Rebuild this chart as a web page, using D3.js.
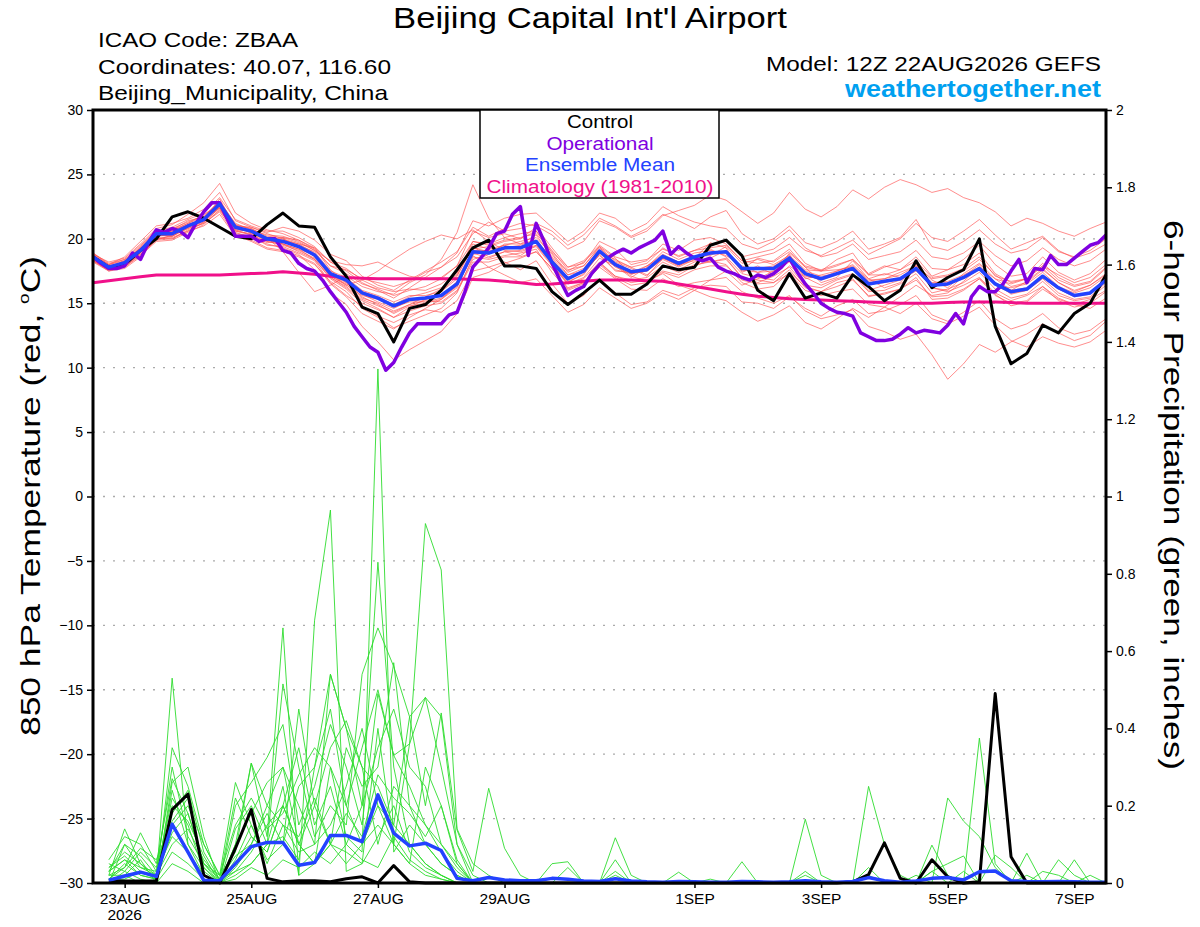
<!DOCTYPE html>
<html>
<head>
<meta charset="utf-8">
<script src="https://cdn.jsdelivr.net/npm/d3@7"></script>
<style>
body { margin: 0; background: #fff; }
svg { display: block; font-family: "Liberation Sans", Arial, Helvetica, sans-serif; }
</style>
</head>
<body>
<svg id="chart" width="1200" height="927"></svg>
<script>
// ---- data ----
var tempTicks = [-30, -25, -20, -15, -10, -5, 0, 5, 10, 15, 20, 25, 30];
var gridTemps = [-25, -20, -15, -10, -5, 0, 5, 10, 15, 20, 25];
var precipTicks = [0, 0.2, 0.4, 0.6, 0.8, 1, 1.2, 1.4, 1.6, 1.8, 2];
var dateTicks = ["2026-08-23", "2026-08-25", "2026-08-27", "2026-08-29", "2026-09-01", "2026-09-03", "2026-09-05", "2026-09-07"];
var legendItems = ["Control", "Operational", "Ensemble Mean", "Climatology (1981-2010)"];

// hours after 12Z 22AUG2026
var hours6 = d3.range(0, 385, 6);
var hours3 = d3.range(0, 385, 3);
var precipHours = d3.range(6, 385, 6);

var controlTemp = [18.6,17.8,18.0,19.1,20.0,21.7,22.1,21.6,20.9,20.2,20.0,21.1,22.0,21.0,20.9,18.6,
  17.1,14.7,14.2,12.0,14.6,14.9,16.0,17.6,19.3,19.9,17.9,17.9,17.7,15.9,14.9,15.8,
  16.8,15.7,15.7,16.5,17.9,17.6,17.8,19.5,19.9,18.7,16.0,15.2,17.3,15.4,15.8,15.4,
  17.2,16.3,15.2,16.0,18.3,16.2,17.0,17.6,20.0,13.2,10.3,11.1,13.3,12.7,14.2,15.0,
  17.2];

var operationalTemp = [18.6,18.1,17.7,17.7,17.9,18.9,18.4,19.7,20.7,20.5,20.8,20.6,20.1,21.2,22.1,22.8,
  22.8,21.5,20.2,20.2,20.2,19.8,20.0,20.0,19.1,18.9,18.1,17.7,17.5,16.8,15.9,15.1,
  14.3,13.2,12.4,11.6,11.2,9.8,10.4,11.6,12.7,13.4,13.4,13.4,13.4,14.1,14.3,15.9,
  17.8,18.5,19.3,20.4,20.6,21.9,22.5,18.7,21.2,19.8,18.1,16.8,15.6,16.0,16.3,17.3,
  18.0,18.5,18.9,19.2,18.9,19.3,19.6,19.9,20.6,18.8,19.4,18.9,18.5,18.3,18.5,17.8,
  17.5,17.3,17.0,16.8,17.2,17.0,17.3,17.8,18.5,17.4,16.5,15.8,15.0,14.6,14.3,14.2,
  14.0,12.7,12.4,12.1,12.1,12.2,12.6,13.1,12.7,12.9,12.8,12.7,13.3,14.2,13.4,15.5,
  16.3,15.9,15.9,16.5,17.5,18.4,16.6,17.7,17.6,18.7,18.0,18.0,18.5,19.0,19.5,19.7,
  20.3];

var meanTemp = [18.6,17.8,18.15,19.1,20.4,20.4,21.0,21.5,22.7,20.9,20.6,20.0,19.8,19.4,18.75,17.3,
  16.8,15.8,15.4,14.8,15.3,15.4,15.6,16.5,19.0,18.9,19.3,19.3,19.8,18.2,16.9,17.5,
  19.05,18.0,17.45,17.6,18.65,18.1,18.6,18.9,19.0,17.7,17.7,17.7,18.5,17.3,16.9,17.3,
  17.7,16.5,16.7,16.9,17.7,16.4,16.5,17.0,17.7,16.5,15.9,16.1,17.1,16.2,15.6,15.8,
  16.8];

var climoTemp = [16.6,16.75,16.9,17.05,17.2,17.2,17.2,17.2,17.2,17.25,17.3,17.35,17.45,17.35,17.25,17.1,
  17.0,16.95,16.9,16.9,16.9,16.9,16.9,16.9,16.85,16.8,16.7,16.6,16.45,16.5,16.6,16.7,
  16.8,16.8,16.8,16.75,16.7,16.5,16.3,16.1,15.9,15.7,15.55,15.45,15.35,15.3,15.25,15.2,
  15.15,15.1,15.05,15.0,15.0,15.0,15.05,15.1,15.1,15.1,15.05,15.0,15.0,15.0,15.0,15.0,
  15.0];

var memberTemps = [
  [18.9,18.0,18.6,19.8,21.0,21.2,21.6,22.3,23.6,21.4,20.9,20.5,20.9,20.6,19.9,18.8,18.3,17.1,16.4,16.0,16.8,
   17.5,18.2,19.0,20.9,20.2,20.8,21.2,21.0,20.3,19.2,19.8,21.4,20.9,20.1,20.6,21.8,22.2,22.6,23.4,23.0,
   22.1,21.2,22.0,23.6,22.3,21.7,22.5,23.8,23.1,24.0,24.6,24.2,23.6,23.9,23.2,22.8,22.1,21.0,21.6,21.2,
   20.6,20.2,20.8,21.3],
  [18.3,17.5,17.9,18.8,19.9,20.3,20.8,21.2,22.1,20.3,19.8,19.2,19.0,18.6,18.0,16.7,15.9,14.6,13.9,13.1,13.6,
   14.1,14.6,15.8,18.6,18.4,18.7,18.9,19.2,17.4,16.0,16.5,17.8,16.9,16.1,16.0,16.9,16.3,16.6,16.8,17.0,
   15.9,15.4,15.0,15.6,14.4,13.8,14.1,14.5,13.2,12.8,12.2,12.6,11.0,9.1,10.3,11.8,11.2,12.0,12.6,13.4,
   12.7,12.1,12.5,13.6],
  [18.8,18.2,18.5,19.6,20.8,21.1,21.9,22.8,24.3,22.0,21.2,20.7,20.4,19.9,19.2,17.9,17.3,16.5,16.1,15.6,16.0,
   16.3,16.9,17.9,20.6,20.1,20.4,20.0,20.9,19.3,17.8,18.1,19.8,19.2,18.0,18.3,19.6,19.1,19.9,20.1,19.6,
   18.3,18.6,18.9,19.6,18.1,17.5,18.4,18.9,17.2,17.8,18.2,19.1,17.7,17.6,18.4,19.5,18.0,17.1,17.3,18.6,
   17.4,16.8,17.3,18.4],
  [18.4,17.6,17.8,18.7,19.8,19.9,20.5,21.1,22.3,20.5,20.1,19.6,19.3,18.8,17.6,15.8,14.9,13.2,12.0,10.6,11.4,
   12.1,12.8,14.2,17.0,17.4,18.1,18.5,19.0,17.7,16.1,16.6,18.1,17.1,16.6,16.8,17.5,17.2,17.9,18.3,18.0,
   16.6,16.1,16.3,17.4,16.3,15.9,16.6,16.9,15.5,15.8,16.1,17.0,15.3,15.4,16.0,16.9,15.7,14.8,15.1,16.1,
   15.3,14.9,14.6,15.4],
  [18.7,17.9,18.2,19.3,20.2,20.6,21.2,21.9,22.6,21.0,20.8,20.1,19.0,17.4,15.9,16.4,17.1,16.3,15.9,15.7,16.6,
   17.2,18.4,20.5,24.2,21.6,20.1,19.6,20.3,18.6,17.5,18.2,19.4,18.5,17.2,17.9,18.8,18.2,18.5,19.7,19.3,
   17.4,17.9,17.2,18.9,17.8,16.6,17.0,18.3,16.9,16.2,16.6,18.0,16.8,16.2,17.3,18.1,16.9,16.0,16.7,17.7,
   16.6,15.9,16.4,17.2],
  [18.5,17.7,18.0,19.0,20.5,20.8,21.3,21.8,22.9,21.2,20.7,20.3,20.2,19.8,19.1,17.9,17.6,16.9,16.6,16.3,16.7,
   17.4,17.8,18.6,20.4,21.3,20.6,20.8,21.2,20.6,19.5,20.3,21.6,21.0,20.2,20.8,21.9,21.4,20.8,21.7,22.2,
   20.4,19.6,20.0,21.0,19.7,19.3,19.8,20.6,19.2,19.6,20.1,21.5,19.4,19.1,19.8,20.7,19.6,18.9,19.2,20.1,
   19.0,18.6,19.1,20.0],
  [18.2,17.5,17.7,18.6,20.0,20.1,20.6,21.3,22.4,20.4,20.2,19.5,19.4,18.9,18.3,16.6,15.6,14.8,14.0,13.5,14.1,
   14.5,14.3,15.2,17.5,17.8,18.2,17.6,18.3,16.5,15.0,15.6,16.9,15.8,14.9,15.1,16.0,15.6,16.2,16.4,16.3,
   15.1,15.0,14.6,15.5,14.6,14.0,14.8,15.3,14.2,14.4,14.9,15.6,14.1,13.6,14.3,15.2,13.8,13.0,13.4,14.2,
   13.1,12.6,12.9,13.8],
  [18.6,17.8,18.3,19.4,20.7,20.5,21.0,21.4,22.5,20.8,20.5,19.9,20.1,19.9,19.3,17.6,16.6,15.5,14.9,14.2,14.8,
   15.0,15.3,16.2,19.2,19.4,19.8,20.0,20.6,19.1,17.6,17.9,19.3,18.3,17.8,17.2,18.2,17.6,18.2,18.5,19.1,
   17.6,18.5,18.2,19.0,17.9,17.6,18.0,18.4,17.3,17.9,17.6,18.6,17.1,17.6,18.0,18.9,17.3,16.6,16.9,18.1,
   17.0,16.4,16.7,17.8],
  [18.9,18.1,18.4,19.2,20.1,20.0,20.7,21.2,22.2,20.6,20.3,19.7,19.9,19.6,19.3,18.2,17.7,16.8,16.2,15.9,16.1,
   16.0,16.5,17.4,19.6,19.2,19.5,19.8,20.1,18.8,17.2,17.5,18.7,17.6,17.3,17.5,18.4,17.8,18.4,18.2,18.5,
   17.0,16.6,17.1,17.8,16.4,16.2,16.8,17.2,15.9,16.0,16.5,17.3,15.8,16.1,16.6,17.4,16.1,15.4,15.7,16.7,
   15.6,15.2,15.4,16.4],
  [18.3,17.6,18.0,19.0,20.3,20.2,20.9,21.6,22.8,21.1,20.4,20.0,19.6,19.2,18.7,17.3,16.4,16.8,17.5,18.4,19.2,
   19.8,20.3,20.0,20.7,19.8,19.1,19.0,19.4,17.9,16.5,17.0,18.5,17.9,17.0,17.8,19.0,18.4,18.9,19.1,18.7,
   17.9,17.4,17.8,18.8,16.9,17.2,17.5,17.9,16.8,16.9,17.2,17.9,16.6,16.7,17.2,17.8,16.4,16.2,16.5,17.4,
   16.3,15.8,16.2,17.1],
  [18.5,17.9,18.1,18.9,20.6,20.7,21.4,21.7,22.9,21.0,20.9,20.4,20.0,19.6,18.9,17.0,16.2,15.2,14.6,13.9,14.7,
   15.3,15.9,17.1,19.4,18.6,19.0,18.7,19.5,18.2,16.8,17.6,19.1,18.2,17.7,17.1,18.5,18.0,18.3,19.2,18.6,
   17.3,17.0,16.8,17.9,17.0,16.4,16.9,17.3,16.0,16.4,16.8,18.1,16.2,16.0,17.1,18.0,16.6,15.7,16.0,16.9,
   15.8,15.3,15.5,16.6],
  [18.7,17.8,18.2,19.2,20.4,20.6,21.1,21.5,23.1,20.9,20.5,19.8,19.5,19.1,18.5,17.1,16.5,15.4,15.0,14.4,14.9,
   15.2,15.1,16.0,18.4,18.8,19.6,19.6,19.9,18.0,16.6,17.3,18.8,17.5,17.4,17.9,18.6,17.9,18.6,18.7,19.4,
   18.1,18.4,18.0,18.7,17.6,17.5,17.6,17.8,16.7,16.9,17.4,17.9,16.9,17.1,17.5,18.4,17.2,16.3,16.6,17.6,
   16.6,16.0,16.4,17.3],
  [18.4,17.7,18.0,19.1,20.3,20.2,20.8,21.4,22.5,20.8,20.6,20.1,19.9,19.5,18.6,17.2,16.6,15.7,15.1,14.6,15.2,
   15.3,15.6,16.7,18.9,18.5,19.0,19.1,19.5,18.0,16.5,16.9,18.2,17.1,16.8,17.0,17.9,17.4,18.0,18.2,18.4,
   17.0,16.8,16.6,17.3,16.0,15.6,15.9,16.1,14.9,14.7,14.2,15.0,13.8,13.4,14.0,14.7,13.3,12.1,11.6,12.4,
   11.9,11.6,12.0,12.9],
  [18.6,17.9,18.2,19.0,20.2,20.3,21.0,21.6,22.6,20.7,20.6,20.0,19.7,19.5,19.0,17.5,17.0,16.0,15.6,15.1,15.6,
   15.6,15.9,16.9,19.1,19.1,19.3,19.5,19.9,18.5,17.2,17.7,19.2,18.1,17.5,17.6,18.7,18.2,18.5,18.9,19.0,
   17.6,17.4,17.5,18.4,17.2,16.8,17.2,17.7,16.5,16.6,16.9,17.6,16.3,16.5,16.9,17.6,16.4,15.8,16.0,17.0,
   16.1,15.5,15.7,16.7],
  [18.5,17.7,18.1,19.2,20.5,20.4,21.1,21.5,22.8,20.9,20.7,20.0,20.0,19.4,18.8,17.4,16.8,15.9,15.5,14.9,15.5,
   15.8,16.2,17.2,19.3,19.0,19.5,19.2,19.9,18.4,17.0,17.4,19.0,18.4,17.8,18.1,19.3,18.6,19.1,19.6,19.8,
   18.6,18.9,19.2,20.1,19.1,18.7,19.3,19.9,18.8,19.4,20.0,21.2,20.1,19.8,20.6,21.5,20.3,19.2,19.7,20.2,
   19.1,18.5,18.9,19.6],
  [18.3,17.6,17.9,18.9,20.0,20.2,20.9,21.3,22.4,20.6,20.4,19.9,19.6,19.2,18.4,16.9,16.1,15.0,14.5,13.9,14.4,
   14.8,15.0,15.9,18.2,18.2,18.6,18.6,19.0,17.7,16.2,16.6,18.0,17.0,16.4,16.6,17.4,17.0,17.6,17.9,17.9,
   16.8,16.5,16.6,17.6,16.2,15.9,16.3,16.8,15.6,15.7,16.1,16.8,15.5,15.6,16.1,16.9,15.6,15.0,15.2,16.3,
   15.2,14.7,15.0,15.9],
  [18.8,18.0,18.4,19.5,20.6,20.7,21.2,21.7,22.9,21.1,20.8,20.2,20.1,19.7,19.1,18.3,18.0,17.9,18.2,17.6,17.1,
   16.9,17.0,17.9,19.8,19.5,19.9,20.1,20.4,19.0,17.8,18.3,19.5,18.6,18.2,18.4,19.2,18.7,19.1,19.3,19.5,
   18.3,18.1,18.3,19.2,17.8,17.5,17.9,18.4,17.2,17.2,17.6,18.3,17.0,17.2,17.7,18.6,17.1,16.7,16.9,17.9,
   16.8,16.3,16.6,17.7],
  [18.6,17.8,18.0,19.0,20.3,20.5,21.0,21.5,22.7,20.9,20.5,20.0,19.8,19.3,18.7,17.1,16.4,15.6,15.3,14.7,15.1,
   15.1,15.4,16.3,18.8,19.0,19.2,19.4,19.8,18.1,16.7,17.2,18.9,17.8,17.3,17.5,18.5,17.9,18.5,18.8,18.9,
   17.5,17.7,17.9,18.5,17.5,17.1,17.3,17.6,16.4,16.7,16.8,17.5,16.5,16.6,17.0,17.7,16.6,16.0,16.2,17.0,
   16.1,15.6,15.8,16.8],
  [18.4,17.6,17.8,18.8,19.9,20.0,20.6,21.0,21.9,20.2,19.9,19.3,19.1,18.7,18.1,16.5,15.5,14.2,13.6,13.0,13.9,
   14.6,15.3,16.4,18.7,17.8,17.2,16.6,16.9,15.6,14.3,14.9,16.2,15.4,14.6,15.0,15.8,15.3,16.0,16.8,17.5,
   16.4,16.9,17.5,18.2,17.1,16.9,17.5,18.0,16.9,17.3,17.0,17.6,16.2,15.9,16.4,17.0,15.8,15.2,15.6,16.3,
   15.4,14.9,15.3,16.0],
  [18.7,18.0,18.3,19.3,20.6,20.9,21.5,22.0,23.2,21.5,21.0,20.6,20.6,20.1,19.4,18.2,17.5,16.6,16.0,15.4,16.2,
   17.0,17.8,18.9,21.4,21.0,21.6,21.9,22.0,20.9,19.8,20.6,22.0,21.6,20.6,21.2,22.5,21.8,21.3,21.0,20.8,
   19.6,19.2,19.8,20.7,19.3,18.6,18.9,19.6,18.4,18.7,19.0,19.9,18.6,18.4,18.9,19.8,18.7,17.9,18.3,19.3,
   18.4,17.9,18.3,19.2],
  [18.5,17.8,18.1,19.0,20.2,20.5,21.1,21.6,22.4,20.7,20.3,19.8,19.6,19.0,18.4,17.0,16.3,15.3,14.8,14.3,14.9,
   15.5,16.1,17.3,19.8,19.6,20.1,20.4,20.6,18.9,17.4,17.9,19.4,18.0,17.1,16.7,17.3,16.4,16.0,15.5,15.2,
   14.3,13.6,14.1,14.8,13.5,13.0,13.8,14.6,13.9,14.7,15.5,16.4,15.6,15.8,16.7,17.8,16.9,16.5,16.9,17.9,
   17.2,16.6,17.0,18.0]
];

var controlPrecip = [0.006,0.005,0.005,0.005,0.19,0.23,0.02,0.0,0.09,0.19,0.012,0.003,0.006,0.006,0.003,0.011,
  0.016,0.0,0.045,0.003,0,0,0,0,0,0,0,0,0,0,0,0,
  0,0,0,0,0,0,0,0,0,0,0,0,0,0,0,0.003,
  0.022,0.104,0.012,0.0,0.06,0.016,0.0,0.003,0.49,0.068,0,0,0,0,0,0];

var meanPrecip = [0.007,0.018,0.028,0.017,0.152,0.08,0.007,0.006,0.05,0.094,0.105,0.105,0.046,0.053,0.123,0.123,
  0.107,0.228,0.129,0.096,0.103,0.084,0.012,0.006,0.014,0.008,0.006,0.006,0.012,0.01,0.005,0.004,
  0.011,0.005,0.003,0.002,0.004,0.003,0.002,0.002,0.004,0.003,0.002,0.003,0.006,0.003,0.002,0.004,
  0.014,0.006,0.002,0.005,0.012,0.014,0.008,0.029,0.031,0.006,0.004,0.003,0.004,0.003,0.002,0.002];

var memberPrecips = [
  [.03,.06,.02,.01,.53,.1,.02,0, .05,.12,.08,.2,.1,.05,.3,.12, .08,1.33,.08,.15,.1,.05,.02,0, 0,0,0,0,0,0,0,0,
   .03,0,0,0,0,0,0,0, 0,0,0,0,0,0,0,0, .25,.1,.02,0,0,0,0,0, 0,0,0,0,0,0,0,0],
  [.02,.14,.05,.02,.22,.15,.03,0, .1,.31,.12,.66,.02,.05,.1,.05, .1,.2,.1,.05,.02,.01,0,0, 0,0,0,0,0,0,0,0,
   0,0,0,0,0,0,0,0, 0,0,0,0,.165,.02,0,0, 0,0,0,0,0,0,0,0, 0,0,0,0,0,0,0,0],
  [.01,.04,.13,.05,.27,.18,.05,.02, .26,.15,.06,.1,.25,.3,.54,.4, .2,.83,.3,.1,.05,.02,0,0, 0,0,0,0,0,0,0,0,
   .117,.02,0,0,0,0,0,0, 0,0,0,0,0,0,0,0, 0,0,0,0,0,0,0,.375, .05,0,0,0,0,0,0,0],
  [.05,.03,.08,.04,.18,.24,.08,.01, .03,.05,.1,.515,.3,.12,.2,.15, .54,.66,.56,.43,.48,.3,.1,.02, 0,0,0,0,0,0,0,0,
   0,0,0,0,0,0,0,0, 0,0,0,0,0,0,0,0, 0,0,0,0,.098,.02,0,0, 0,0,0,0,0,0,0,0],
  [0,.1,.04,.03,.3,.12,.05,0, .2,.26,.325,.41,.15,.25,.41,.3, .15,.49,.33,.36,.93,.81,.14,.05, .02,0,0,0,.05,.055,0,0,
   0,0,0,0,0,0,0,0, 0,0,0,0,0,0,0,0, 0,0,0,0,0,0,0,0, 0,0,0,0,0,0,0,0],
  [.04,.07,.03,.02,.15,.2,.1,.02, .08,.31,.2,.3,.1,.2,.35,.42, .3,.25,.15,.43,.2,.44,.137,.03, .245,.09,.02,0,0,0,0,0,
   0,0,0,0,0,0,0,0, 0,0,0,0,0,0,0,0, 0,0,0,0,0,0,0,0, 0,0,0,0,0,0,0,0],
  [.02,.02,.06,0,.26,.3,.12,0, .04,.1,.18,.1,.45,.2,.1,.35, .25,.3,.57,.2,.1,.05,.02,0, 0,0,0,0,0,0,0,0,
   0,0,0,0,.028,0,0,0, 0,0,0,0,0,0,0,0, 0,0,0,0,0,.22,.16,.12, .04,0,0,0,0,0,0,0],
  [.06,.12,.1,.03,.12,.08,.02,0, .14,.2,.1,.25,.02,.68,.965,.03, .05,.4,.1,.05,.3,.2,.05,0, 0,0,0,0,0,0,0,0,
   0,0,0,0,0,0,0,0, .055,0,0,0,0,0,0,0, 0,0,0,0,0,0,0,0, 0,0,0,0,0,.06,0,0],
  [.01,.05,.02,.01,.24,.1,.04,0, .06,.15,.05,.15,.08,.1,.54,.4, .3,.1,.25,.2,.15,.1,.04,0, 0,0,0,0,0,0,0,0,
   .06,0,0,0,0,0,0,0, 0,0,0,0,0,0,0,0, 0,0,0,0,0,0,0,0, 0,0,.077,0,0,0,0,0],
  [.03,.1,.07,.02,.1,.14,.06,.01, .22,.12,.08,.2,.35,.15,.25,.1, .2,.35,.45,.3,.25,.1,.05,0, 0,0,0,0,0,0,0,0,
   0,0,0,0,0,0,0,0, 0,0,0,0,.03,0,0,0, 0,0,0,0,0,0,0,0, 0,0,0,0,.06,.02,0,0],
  [0,.03,.01,0,.2,.16,.07,0, .02,.05,.1,.12,.06,.3,.45,.2, .1,.15,.1,.36,.48,.43,.1,0, 0,0,0,0,0,0,0,0,
   .02,0,0,0,0,0,0,0, 0,0,0,0,0,0,0,0, .04,0,0,0,.03,.05,.07,0, 0,0,0,0,0,0,0,0],
  [.02,.04,.09,.06,.16,.22,.04,0, .1,.18,.26,.3,.2,.1,.15,.25, .4,.2,.15,.1,.05,.02,0,0, 0,0,0,0,0,.04,0,0,
   0,0,0,0,0,0,0,0, 0,0,0,0,0,0,0,0, 0,0,0,0,0,0,0,0, .072,.04,0,0,0,0,.02,0],
  [.01,.01,.03,.01,.08,.05,.01,0, .03,.08,.15,.2,.1,.05,.1,.08, .05,.12,.2,.08,.04,.02,0,0, 0,0,0,0,0,0,0,0,
   0,0,0,0,0,0,.01,0, 0,0,0,0,0,0,0,0, 0,0,0,.02,0,0,0,0, 0,0,.02,0,0,0,0,0],
  [.04,.08,.05,.01,.35,.25,.1,.02, .15,.22,.14,.18,.28,.35,.3,.2, .35,.5,.33,.25,.15,.08,.03,0, 0,0,0,0,0,0,0,0,
   0,0,0,0,0,0,0,0, 0,0,0,0,0,0,0,0, 0,0,0,0,0,0,0,0, 0,0,0,.03,.02,0,0,0],
  [0,.02,0,0,.05,.03,0,0, .01,.04,.02,.06,.04,.08,.05,.1, .06,.04,.12,.06,.03,.01,0,0, 0,0,0,0,0,0,0,0,
   0,0,0,0,0,0,0,0, 0,0,0,0,.02,0,0,0, 0,0,0,0,0,0,.03,0, 0,0,0,0,0,0,0,0],
  [.03,.06,.04,.02,.13,.18,.05,.01, .07,.1,.2,.15,.12,.22,.1,.18, .12,.28,.22,.18,.12,.2,.06,0, 0,0,0,0,0,0,0,0,
   0,0,0,0,0,0,0,0, 0,0,0,0,0,0,0,0, .02,0,0,0,.03,0,0,0, 0,0,0,0,0,0,0,0]
];

// ---- layout ----
var W = 1200, H = 927;
var plot = { left: 93, right: 1106, top: 110, bottom: 883 };
var svg = d3.select("#chart");
svg.append("rect").attr("width", W).attr("height", H).attr("fill", "#fff");

var t0 = Date.UTC(2026, 7, 22, 12);
function atHour(h) { return new Date(t0 + h * 3600000); }

var x = d3.scaleUtc().domain([atHour(0), atHour(384)]).range([plot.left, plot.right]);
var yT = d3.scaleLinear().domain([-30, 30]).range([plot.bottom, plot.top]);
var yP = d3.scaleLinear().domain([0, 2]).range([plot.bottom, plot.top]);

function series(hours, vals) {
  return vals.map(function (v, i) { return { t: atHour(hours[i]), v: v }; });
}
var lineT = d3.line().x(function (d) { return x(d.t); }).y(function (d) { return yT(d.v); });
var lineP = d3.line().x(function (d) { return x(d.t); }).y(function (d) { return yP(d.v); });

// the reference font runs wider than Liberation Sans, so stretch to measured widths
function fit(sel, w) {
  return sel.attr("textLength", w).attr("lengthAdjust", "spacingAndGlyphs");
}

// dotted grid
svg.append("g").selectAll("line").data(gridTemps).enter().append("line")
  .attr("x1", plot.left).attr("x2", plot.right)
  .attr("y1", function (d) { return yT(d); }).attr("y2", function (d) { return yT(d); })
  .attr("stroke", "#aaa").attr("stroke-width", 1.3).attr("stroke-dasharray", "2,8");

// ensemble members
svg.append("g").selectAll("path").data(memberPrecips).enter().append("path")
  .attr("d", function (d) { return lineP(series(precipHours, d)); })
  .attr("fill", "none").attr("stroke", "#2fdc2f").attr("stroke-width", 0.9);

svg.append("g").selectAll("path").data(memberTemps).enter().append("path")
  .attr("d", function (d) { return lineT(series(hours6, d)); })
  .attr("fill", "none").attr("stroke", "#ff4a4a").attr("stroke-opacity", 0.75).attr("stroke-width", 0.85);

// main lines
function bold(data, line, color, w) {
  svg.append("path").attr("d", line(data))
    .attr("fill", "none").attr("stroke", color).attr("stroke-width", w)
    .attr("stroke-linejoin", "round");
}
bold(series(hours6, climoTemp), lineT, "#f0108a", 3);
bold(series(hours6, controlTemp), lineT, "#000", 3);
bold(series(hours3, operationalTemp), lineT, "#8000e0", 3.5);
bold(series(hours6, meanTemp), lineT, "#2342ff", 3.5);
bold(series(precipHours, controlPrecip), lineP, "#000", 3);
bold(series(precipHours, meanPrecip), lineP, "#2342ff", 3.5);

// axes
var fmtDate = d3.utcFormat("%-d%b");
var axL = svg.append("g").attr("transform", "translate(" + plot.left + ",0)")
  .call(d3.axisLeft(yT).tickValues(tempTicks).tickSize(6).tickPadding(4));
var axR = svg.append("g").attr("transform", "translate(" + plot.right + ",0)")
  .call(d3.axisRight(yP).tickValues(precipTicks).tickSize(6).tickPadding(4)
    .tickFormat(function (d) { return String(d); }));
var axB = svg.append("g").attr("transform", "translate(0," + plot.bottom + ")")
  .call(d3.axisBottom(x).tickValues(dateTicks.map(function (s) { return new Date(s + "T00:00:00Z"); }))
    .tickSize(5).tickPadding(5)
    .tickFormat(function (d) { return fmtDate(d).toUpperCase(); }));
[axL, axR, axB].forEach(function (g) {
  g.select(".domain").remove();
  g.selectAll(".tick line").attr("stroke", "#000").attr("stroke-width", 1.5);
  g.selectAll(".tick text").attr("fill", "#000").style("font-family", "Liberation Sans, Arial, sans-serif");
});
axL.selectAll(".tick text").style("font-size", "14px");
axR.selectAll(".tick text").style("font-size", "14px");
axB.selectAll(".tick text").style("font-size", "15.5px");
svg.append("text").attr("x", x(new Date(dateTicks[0] + "T00:00:00Z"))).attr("y", 920)
  .attr("text-anchor", "middle").style("font-size", "15.5px").text("2026");

// frame
svg.append("rect").attr("x", plot.left).attr("y", plot.top)
  .attr("width", plot.right - plot.left).attr("height", plot.bottom - plot.top)
  .attr("fill", "none").attr("stroke", "#000").attr("stroke-width", 3);

// legend
var legendColors = ["#000", "#8000e0", "#2342ff", "#f0108a"];
var legendWidths = [66, 107, 150, 227];
svg.append("rect").attr("x", 480).attr("y", 110).attr("width", 239).attr("height", 88)
  .attr("fill", "#fff").attr("stroke", "#000").attr("stroke-width", 1.5);
svg.append("g").selectAll("text").data(legendItems).enter().append("text")
  .attr("x", 600).attr("y", function (d, i) { return 128 + i * 21.5; })
  .attr("text-anchor", "middle").style("font-size", "17.5px")
  .attr("fill", function (d, i) { return legendColors[i]; })
  .attr("textLength", function (d, i) { return legendWidths[i]; })
  .attr("lengthAdjust", "spacingAndGlyphs")
  .text(function (d) { return d; });

// headers
fit(svg.append("text").attr("x", 590).attr("y", 28).attr("text-anchor", "middle")
  .style("font-size", "29px").text("Beijing Capital Int'l Airport"), 394);
var info = ["ICAO Code: ZBAA", "Coordinates: 40.07, 116.60", "Beijing_Municipality, China"];
var infoWidths = [200, 293, 290];
info.forEach(function (s, i) {
  fit(svg.append("text").attr("x", 98).attr("y", 47 + i * 26.5)
    .style("font-size", "21px").text(s), infoWidths[i]);
});
fit(svg.append("text").attr("x", 1101).attr("y", 71).attr("text-anchor", "end")
  .style("font-size", "21px").text("Model: 12Z 22AUG2026 GEFS"), 335);
fit(svg.append("text").attr("x", 1101).attr("y", 97).attr("text-anchor", "end")
  .style("font-size", "23px").style("font-weight", "bold").attr("fill", "#00a0f0")
  .text("weathertogether.net"), 256);

// axis titles
var lt = fit(svg.append("text").attr("transform", "translate(40,496) rotate(-90)")
  .attr("text-anchor", "middle").style("font-size", "28px"), 480);
lt.append("tspan").text("850 hPa Temperature (red, ");
lt.append("tspan").attr("dy", -11).style("font-size", "15px").text("o");
lt.append("tspan").attr("dy", 11).text("C)");
fit(svg.append("text").attr("transform", "translate(1164,495) rotate(90)")
  .attr("text-anchor", "middle").style("font-size", "28px")
  .text("6-hour Precipitation (green, inches)"), 550);
</script>
</body>
</html>
